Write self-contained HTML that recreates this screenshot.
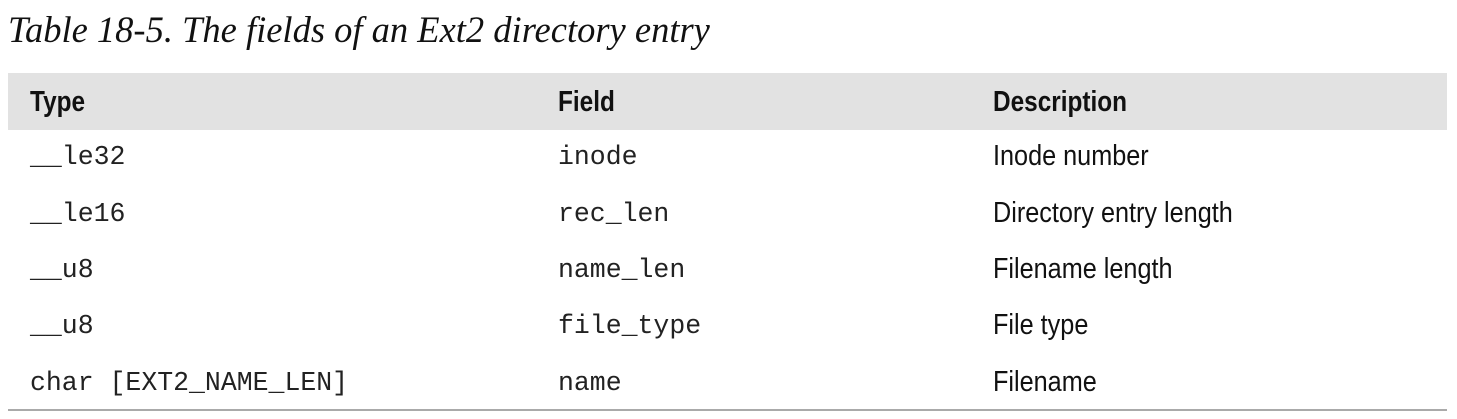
<!DOCTYPE html>
<html><head><style>
body{margin:0;width:1457px;height:419px;background:#fff;position:relative;overflow:hidden}
.t{position:absolute;white-space:nowrap;line-height:1}
.title{left:8px;top:8px;font:italic 36.5px "Liberation Serif",serif;color:#111}
.band{position:absolute;left:8px;top:73px;width:1439px;height:57px;background:#e2e2e2}
.rule{position:absolute;left:8px;top:409px;width:1439px;height:2px;background:#aaa}
.h{font:bold 29px "Liberation Sans",sans-serif;color:#111;transform:scaleX(0.84);transform-origin:left center;top:86px}
.m{font:26.5px "Liberation Mono",monospace;color:#222}
.d{font:29px "Liberation Sans",sans-serif;color:#111;transform:scaleX(0.87);transform-origin:left center}
</style></head><body>
<div class="t title">Table 18-5. The fields of an Ext2 directory entry</div>
<div class="band"></div>
<div class="t h" style="left:30px">Type</div>
<div class="t h" style="left:558px">Field</div>
<div class="t h" style="left:993px">Description</div>

<div class="t m" style="left:30px;top:142px">__le32</div>
<div class="t m" style="left:558px;top:142px">inode</div>
<div class="t d" style="left:993px;top:140px">Inode number</div>

<div class="t m" style="left:30px;top:199px">__le16</div>
<div class="t m" style="left:558px;top:199px">rec_len</div>
<div class="t d" style="left:993px;top:197px">Directory entry length</div>

<div class="t m" style="left:30px;top:255px">__u8</div>
<div class="t m" style="left:558px;top:255px">name_len</div>
<div class="t d" style="left:993px;top:253px">Filename length</div>

<div class="t m" style="left:30px;top:311px">__u8</div>
<div class="t m" style="left:558px;top:311px">file_type</div>
<div class="t d" style="left:993px;top:309px">File type</div>

<div class="t m" style="left:30px;top:368px">char [EXT2_NAME_LEN]</div>
<div class="t m" style="left:558px;top:368px">name</div>
<div class="t d" style="left:993px;top:366px">Filename</div>
<div class="rule"></div>
</body></html>
